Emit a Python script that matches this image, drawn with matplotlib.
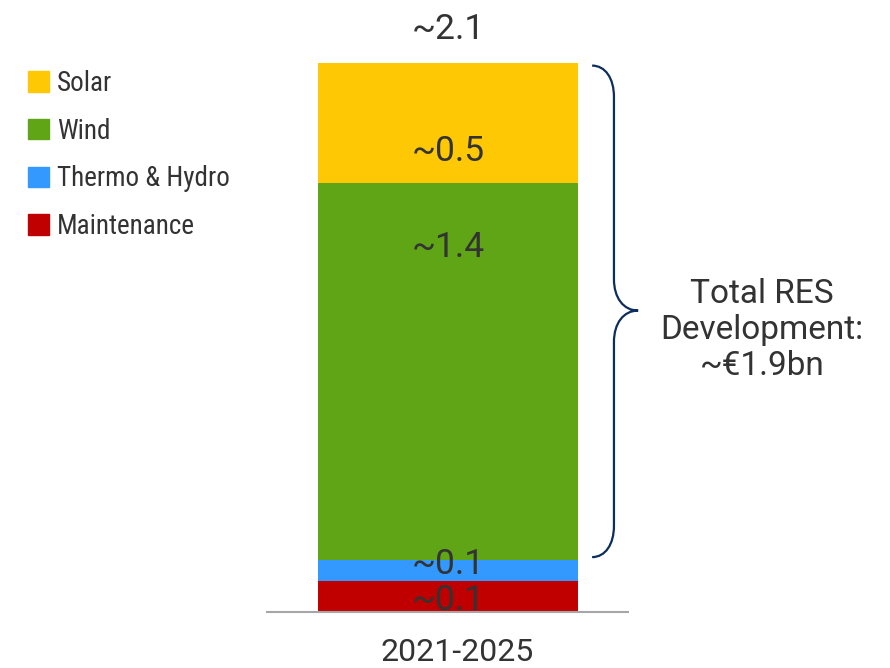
import numpy as np
import matplotlib.pyplot as plt
from matplotlib.patches import Patch, PathPatch
from matplotlib.path import Path

# data (bottom to top)
segments = ["Maintenance", "Thermo & Hydro", "Wind", "Solar"]
values = [0.12, 0.08, 1.44, 0.46]
labels = ["~0.1", "~0.1", "~1.4", "~0.5"]
total_label = "~2.1"
period = ["2021-2025"]
res_note = "Total RES\nDevelopment:\n~€1.9bn"

colors = ["#C00000", "#3399FF", "#5FA515", "#FFC805"]
label_frac = [0.375, 0.75, 0.83, 0.26]  # where the value label sits inside each segment
txt_color = "#333333"
narrow = ["Roboto Condensed", "Liberation Sans Narrow", "DejaVu Sans"]
plt.rcParams["font.family"] = ["Roboto", "DejaVu Sans"]

fig = plt.figure(figsize=(8.9, 6.68), dpi=100)
ax = fig.add_axes([267 / 890, 56 / 668, 361 / 890, 549 / 668])

bottoms = np.concatenate([[0], np.cumsum(values)[:-1]])
total = sum(values)
for v, b, c, lab, f in zip(values, bottoms, colors, labels, label_frac):
    ax.bar(0, v, bottom=b, width=1.0, color=c, edgecolor="none")
    ax.text(0, b + f * v, lab, ha="center", va="center", fontsize=25.5, color=txt_color)

ax.annotate(total_label, (0, total), xytext=(0, 24), textcoords="offset points",
            ha="center", va="center", fontsize=25.5, color=txt_color, annotation_clip=False)

ax.set_xlim(-0.696, 0.692)
ax.set_ylim(0, total)
ax.set_xticks([0.035])
ax.set_xticklabels(period, fontsize=23, color=txt_color)
ax.tick_params(axis="x", length=0, pad=19)
ax.set_yticks([])
for s in ["top", "left", "right"]:
    ax.spines[s].set_visible(False)
ax.spines["bottom"].set_color("#A6A6A6")
ax.spines["bottom"].set_linewidth(1.5)

# curly brace spanning the RES segments
x0, xm, xt = 0.554, 0.638, 0.731
ytop = total - 0.01
ybot = values[0] + values[1] + 0.01
ymid = 1.153
r = 0.12
verts = [(x0, ytop), (x0 + (xm - x0) * 0.6, ytop), (xm, ytop - r * 0.4), (xm, ytop - r),
         (xm, ymid + r),
         (xm, ymid + r * 0.4), (xm + (xt - xm) * 0.4, ymid), (xt, ymid),
         (xm + (xt - xm) * 0.4, ymid), (xm, ymid - r * 0.4), (xm, ymid - r),
         (xm, ybot + r),
         (xm, ybot + r * 0.4), (x0 + (xm - x0) * 0.6, ybot), (x0, ybot)]
codes = [Path.MOVETO, Path.CURVE4, Path.CURVE4, Path.CURVE4, Path.LINETO,
         Path.CURVE4, Path.CURVE4, Path.CURVE4, Path.CURVE4, Path.CURVE4, Path.CURVE4,
         Path.LINETO, Path.CURVE4, Path.CURVE4, Path.CURVE4]
ax.add_patch(PathPatch(Path(verts, codes), facecolor="none", edgecolor="#0D2D5C",
                       lw=1.6, clip_on=False))

fig.text(762 / 890, 1 - 330 / 668, res_note, ha="center", va="center", fontsize=24,
         color=txt_color, linespacing=1.15)

handles = [Patch(color=c, label=s) for c, s in zip(colors, segments)][::-1]
fig.legend(handles=handles, loc="upper left", bbox_to_anchor=(28 / 890, 1 - 70 / 668),
           frameon=False, borderpad=0, borderaxespad=0,
           handlelength=0.78, handleheight=0.78, handletextpad=0.3,
           labelspacing=0.76, prop={"family": narrow, "size": 19.5}, labelcolor=txt_color)

fig.savefig("out.png", dpi=100)
